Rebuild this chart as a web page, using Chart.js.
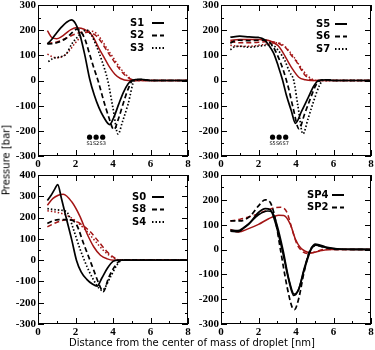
<!DOCTYPE html>
<html>
<head>
<meta charset="utf-8">
<script src="https://cdn.jsdelivr.net/npm/chart.js@4.4.0/dist/chart.umd.min.js"></script>
<style>
    html, body { margin: 0; padding: 0; background: #fff; width: 375px; height: 350px; overflow: hidden; position: relative; }
    canvas { position: absolute; }
    .title { position: absolute; font: 10px "DejaVu Sans"; color: #000; white-space: nowrap; }
</style>
</head>
<body>
<canvas id="p1" width="200" height="190" style="left:0px;top:-10px"></canvas>
<canvas id="p2" width="200" height="190" style="left:183px;top:-10px"></canvas>
<canvas id="p3" width="200" height="190" style="left:0px;top:160px"></canvas>
<canvas id="p4" width="200" height="190" style="left:183px;top:160px"></canvas>
<div class="title" style="left:6px;top:160px;transform:translate(-50%,-50%) rotate(-90deg);">Pressure [bar]</div>
<div class="title" style="left:192px;top:342px;transform:translate(-50%,-50%);">Distance from the center of mass of droplet [nm]</div>
<script>
// Colours and dash styles
const BLACK = '#000000';
const RED = '#a31515';
const SOLID = [];
const DASHED = [5, 3];
const DOTTED = [1.5, 2];

// Axis ranges [min, max]
const xRange = [0, 8];
const yRangeTop = [-300, 300];
const yRangeS0 = [-300, 400];
const yRangeSP = [-300, 300];

// Panel 1: S1, S2, S3  [distance nm, pressure bar]
const s1Black = [[0.5,145],[0.75,165],[1,190],[1.25,212],[1.5,230],[1.78,241],[2,226],[2.25,178],[2.5,100],[2.75,8],[3,-58],[3.25,-108],[3.5,-145],[3.82,-175],[4.05,-145],[4.3,-95],[4.55,-48],[4.8,-14],[5,0],[5.5,5],[6,0],[8,0]];
const s2Black = [[0.5,145],[0.75,146],[1,150],[1.25,157],[1.5,168],[1.75,185],[2.08,204],[2.3,192],[2.5,165],[2.75,105],[3,45],[3.2,0],[3.5,-80],[3.75,-140],[4.05,-195],[4.3,-150],[4.55,-90],[4.8,-35],[5.05,0],[5.5,4],[6,0],[8,0]];
const s3Black = [[0.55,75],[0.8,88],[1.1,93],[1.5,105],[1.8,145],[2.1,172],[2.4,195],[2.6,200],[2.85,180],[3.1,140],[3.4,80],[3.72,0],[4,-110],[4.27,-213],[4.5,-165],[4.8,-95],[5.15,0],[5.5,3],[6,0],[8,0]];
const s1Red = [[0.5,198],[0.75,170],[1,166],[1.25,174],[1.5,188],[1.75,202],[2,210],[2.3,208],[2.6,198],[2.9,178],[3.25,128],[3.5,95],[3.8,55],[4.1,25],[4.4,8],[4.8,0],[8,0]];
const s2Red = [[0.5,148],[1,153],[1.5,168],[2,185],[2.5,193],[2.8,190],[3.1,178],[3.4,150],[3.7,115],[4,82],[4.3,50],[4.6,24],[4.9,7],[5.2,0],[8,0]];
const s3Red = [[0.5,105],[0.75,95],[1,90],[1.3,95],[1.6,112],[2,150],[2.5,188],[2.85,196],[3.1,188],[3.4,160],[3.7,125],[4,92],[4.3,58],[4.6,30],[4.9,10],[5.2,0],[8,0]];

// Panel 2: S5, S6, S7
const s5Black = [[0.5,172],[1,176],[1.5,173],[2,171],[2.3,163],[2.55,140],[2.8,110],[3.05,58],[3.29,0],[3.5,-62],[3.75,-120],[3.97,-170],[4.3,-122],[4.65,-68],[4.95,-22],[5.2,0],[5.6,3],[6,0],[8,0]];
const s6Black = [[0.5,148],[0.75,158],[1,160],[1.5,158],[2,160],[2.4,160],[2.6,152],[2.85,125],[3.1,85],[3.35,35],[3.6,-30],[3.85,-110],[4.16,-192],[4.45,-135],[4.75,-75],[5.05,-20],[5.3,0],[5.7,3],[6,0],[8,0]];
const s7Black = [[0.5,122],[0.75,135],[1,136],[1.5,132],[2,136],[2.5,140],[2.8,138],[3.1,115],[3.4,80],[3.65,35],[3.88,0],[4.1,-100],[4.37,-212],[4.65,-150],[4.95,-80],[5.25,-20],[5.45,0],[6,0],[8,0]];
const s5Red = [[0.5,160],[1,163],[1.5,163],[2,163],[2.5,160],[2.8,150],[3.05,138],[3.25,118],[3.45,92],[3.8,47],[4.15,13],[4.5,3],[4.8,0],[8,0]];
const s6Red = [[0.5,155],[1,150],[1.5,150],[2,152],[2.5,155],[3,150],[3.25,140],[3.45,130],[3.75,100],[4,78],[4.42,27],[4.78,3],[5,0],[8,0]];
const s7Red = [[0.5,140],[1,136],[1.5,136],[2,140],[2.5,145],[3,150],[3.3,142],[3.6,120],[3.9,92],[4.2,58],[4.5,28],[4.8,8],[5.1,0],[8,0]];

// Panel 3: S0, S8, S4
const s0Black = [[0.5,280],[0.7,305],[0.9,335],[1.05,355],[1.25,290],[1.5,200],[1.8,95],[2.05,0],[2.3,-55],[2.6,-90],[2.9,-112],[3.15,-122],[3.4,-85],[3.7,-38],[4,-6],[4.3,0],[8,0]];
const s8Black = [[0.5,172],[0.8,185],[1.1,190],[1.5,190],[1.8,188],[2.07,164],[2.43,78],[2.7,16],[2.97,-47],[3.3,-122],[3.47,-148],[3.78,-80],[4.14,-23],[4.4,-2],[4.6,0],[8,0]];
const s4Black = [[0.5,242],[0.8,238],[1.17,235],[1.55,225],[1.89,145],[2.25,50],[2.61,-30],[2.97,-94],[3.25,-132],[3.42,-142],[3.87,-78],[4.23,-20],[4.5,0],[8,0]];
const s0Red = [[0.5,258],[0.8,290],[1.08,305],[1.35,310],[1.8,274],[2.25,203],[2.61,125],[2.97,63],[3.33,23],[3.69,6],[4.05,0],[8,0]];
const s8Red = [[0.5,156],[0.8,170],[1.08,180],[1.5,190],[1.8,190],[2.25,172],[2.79,133],[3.24,86],[3.69,39],[4.05,13],[4.35,0],[8,0]];
const s4Red = [[0.5,232],[1,225],[1.5,212],[2,185],[2.5,145],[3,95],[3.5,45],[4,12],[4.4,0],[8,0]];

// Panel 4: SP4, SP2
const sp4BlackA = [[0.5,74],[0.93,72],[1.2,85],[1.47,101],[2,149],[2.36,165],[2.63,160],[2.9,108],[3.26,0],[3.61,-122],[3.88,-185],[4.15,-160],[4.42,-81],[4.78,0],[5.04,22],[5.58,10],[6.3,2],[8,0]];
const sp4BlackB = [[0.5,78],[0.9,76],[1.2,88],[1.5,105],[2,140],[2.5,155],[2.75,148],[3,95],[3.3,0],[3.62,-120],[3.9,-180],[4.15,-158],[4.45,-80],[4.8,0],[5.06,18],[5.6,8],[6.3,2],[8,0]];
const sp2Black = [[0.5,115],[1.02,115],[1.56,135],[2,176],[2.36,200],[2.63,189],[2.86,135],[3.17,0],[3.52,-149],[3.79,-232],[3.92,-242],[4.15,-196],[4.42,-95],[4.72,-7],[5.04,16],[5.58,7],[6.3,0],[8,0]];
const sp4Red = [[0.5,81],[0.93,70],[1.47,84],[2,101],[2.54,124],[3.08,138],[3.35,137],[3.7,101],[3.97,41],[4.24,7],[4.5,-7],[4.78,-14],[5.22,-7],[5.8,0],[8,0]];
const sp2Red = [[0.5,115],[1.02,122],[1.65,135],[2.36,155],[2.9,169],[3.2,170],[3.52,149],[3.79,81],[4.06,20],[4.33,-7],[4.6,-16],[4.96,-11],[5.5,0],[8,0]];

// Marker dots under the wells
const markerX = [2.75, 3.1, 3.45];
const markerY = -225;
const markersTop = ['S1', 'S2', 'S3'];
const markersTopRight = ['S5', 'S6', 'S7'];

const TICK_FONT = { family: 'Liberation Serif', size: 11, weight: 'bold' };

/**
 * Builds one line dataset from [x, y] pairs
 */
function series(points, color, dash) {
    return {
        data: points.map(([x, y]) => ({ x, y })),
        borderColor: color,
        borderWidth: color === BLACK ? 1.7 : 1.5,
        borderDash: dash,
        pointRadius: 0,
        fill: false,
        cubicInterpolationMode: 'monotone'
    };
}

/**
 * Dots dataset (no line)
 */
function dots(labels) {
    return {
        data: markerX.map(x => ({ x, y: markerY })),
        showLine: false,
        pointRadius: 2.6,
        pointBackgroundColor: BLACK,
        pointBorderWidth: 0,
        markerLabels: labels
    };
}

// Frame, inside ticks, legend and marker labels
const panelDeco = {
    id: 'panelDeco',
    afterDraw(chart, args, opts) {
        const { ctx, chartArea: a, scales: { x, y } } = chart;
        ctx.save();
        ctx.strokeStyle = BLACK;
        ctx.lineWidth = 1;
        ctx.setLineDash([]);
        ctx.strokeRect(a.left + 0.5, a.top + 0.5, a.right - a.left - 1, a.bottom - a.top - 1);

        const seg = (x1, y1, x2, y2) => {
            ctx.beginPath(); ctx.moveTo(x1, y1); ctx.lineTo(x2, y2); ctx.stroke();
        };
        for (let v = x.min; v <= x.max; v += 1) {
            const px = Math.round(x.getPixelForValue(v)) + 0.5;
            const len = v % 2 === 0 ? 6 : 3;
            seg(px, a.bottom, px, a.bottom - len);
            seg(px, a.top, px, a.top + len);
        }
        for (let v = y.min; v <= y.max; v += 50) {
            const py = Math.round(y.getPixelForValue(v)) + 0.5;
            const len = v % 100 === 0 ? 6 : 3;
            seg(a.left, py, a.left + len, py);
            seg(a.right, py, a.right - len, py);
        }

        // legend entries
        ctx.font = 'bold 10px "DejaVu Sans"';
        ctx.fillStyle = BLACK;
        ctx.textBaseline = 'middle';
        ctx.textAlign = 'left';
        opts.legend.forEach((item, i) => {
            const ty = a.top + opts.legendTop + i * 12.5;
            ctx.fillText(item.label, a.right - opts.textDx, ty);
            ctx.lineWidth = 2;
            ctx.setLineDash(item.dash);
            seg(a.right - opts.lineDx, ty, a.right - opts.lineDx + 12, ty);
        });
        ctx.setLineDash([]);

        // labels below the marker dots
        chart.data.datasets.forEach(ds => {
            if (!ds.markerLabels) return;
            ctx.font = '5px "DejaVu Sans"';
            ctx.textAlign = 'center';
            ds.data.forEach((p, i) => {
                ctx.fillText(ds.markerLabels[i], x.getPixelForValue(p.x), y.getPixelForValue(p.y) + 7);
            });
        });
        ctx.restore();
    }
};

/**
 * Creates one panel of the figure
 */
function makePanel(id, datasets, yRange, bottomPad, deco) {
    const ctx = document.getElementById(id).getContext('2d');
    return new Chart(ctx, {
        type: 'line',
        data: { datasets },
        options: {
            responsive: false,
            animation: false,
            devicePixelRatio: 1,
            layout: { padding: { left: 0, top: 15, right: 12, bottom: bottomPad } },
            plugins: { legend: { display: false }, tooltip: { enabled: false }, panelDeco: deco },
            scales: {
                x: {
                    type: 'linear', min: xRange[0], max: xRange[1],
                    grid: { display: false, drawTicks: false }, border: { display: false },
                    ticks: { stepSize: 2, autoSkip: false, maxRotation: 0, padding: 2, color: BLACK, font: TICK_FONT },
                    afterFit: s => { s.height = 16; }
                },
                y: {
                    type: 'linear', min: yRange[0], max: yRange[1],
                    grid: { display: false, drawTicks: false }, border: { display: false },
                    ticks: { stepSize: 100, autoSkip: false, padding: 2, color: BLACK, font: TICK_FONT },
                    afterFit: s => { s.width = 38; }
                }
            }
        },
        plugins: [panelDeco]
    });
}

makePanel('p1', [
    series(s1Black, BLACK, SOLID), series(s2Black, BLACK, DASHED), series(s3Black, BLACK, DOTTED),
    series(s1Red, RED, SOLID), series(s2Red, RED, DASHED), series(s3Red, RED, DOTTED),
    dots(markersTop)
], yRangeTop, 8, {
    legendTop: 18, textDx: 58, lineDx: 36,
    legend: [{ label: 'S1', dash: SOLID }, { label: 'S2', dash: DASHED }, { label: 'S3', dash: DOTTED }]
});

makePanel('p2', [
    series(s5Black, BLACK, SOLID), series(s6Black, BLACK, DASHED), series(s7Black, BLACK, DOTTED),
    series(s5Red, RED, SOLID), series(s6Red, RED, DASHED), series(s7Red, RED, DOTTED),
    dots(markersTopRight)
], yRangeTop, 8, {
    legendTop: 19, textDx: 55, lineDx: 36,
    legend: [{ label: 'S5', dash: SOLID }, { label: 'S6', dash: DASHED }, { label: 'S7', dash: DOTTED }]
});

makePanel('p3', [
    series(s0Black, BLACK, SOLID), series(s8Black, BLACK, DASHED), series(s4Black, BLACK, DOTTED),
    series(s0Red, RED, SOLID), series(s8Red, RED, DASHED), series(s4Red, RED, DOTTED)
], yRangeS0, 10, {
    legendTop: 22, textDx: 56, lineDx: 36,
    legend: [{ label: 'S0', dash: SOLID }, { label: 'S8', dash: DASHED }, { label: 'S4', dash: DOTTED }]
});

makePanel('p4', [
    series(sp4BlackA, BLACK, SOLID), series(sp4BlackB, BLACK, SOLID), series(sp2Black, BLACK, DASHED),
    series(sp4Red, RED, SOLID), series(sp2Red, RED, DASHED)
], yRangeSP, 10, {
    legendTop: 20, textDx: 64, lineDx: 39,
    legend: [{ label: 'SP4', dash: SOLID }, { label: 'SP2', dash: DASHED }]
});
</script>
</body>
</html>
